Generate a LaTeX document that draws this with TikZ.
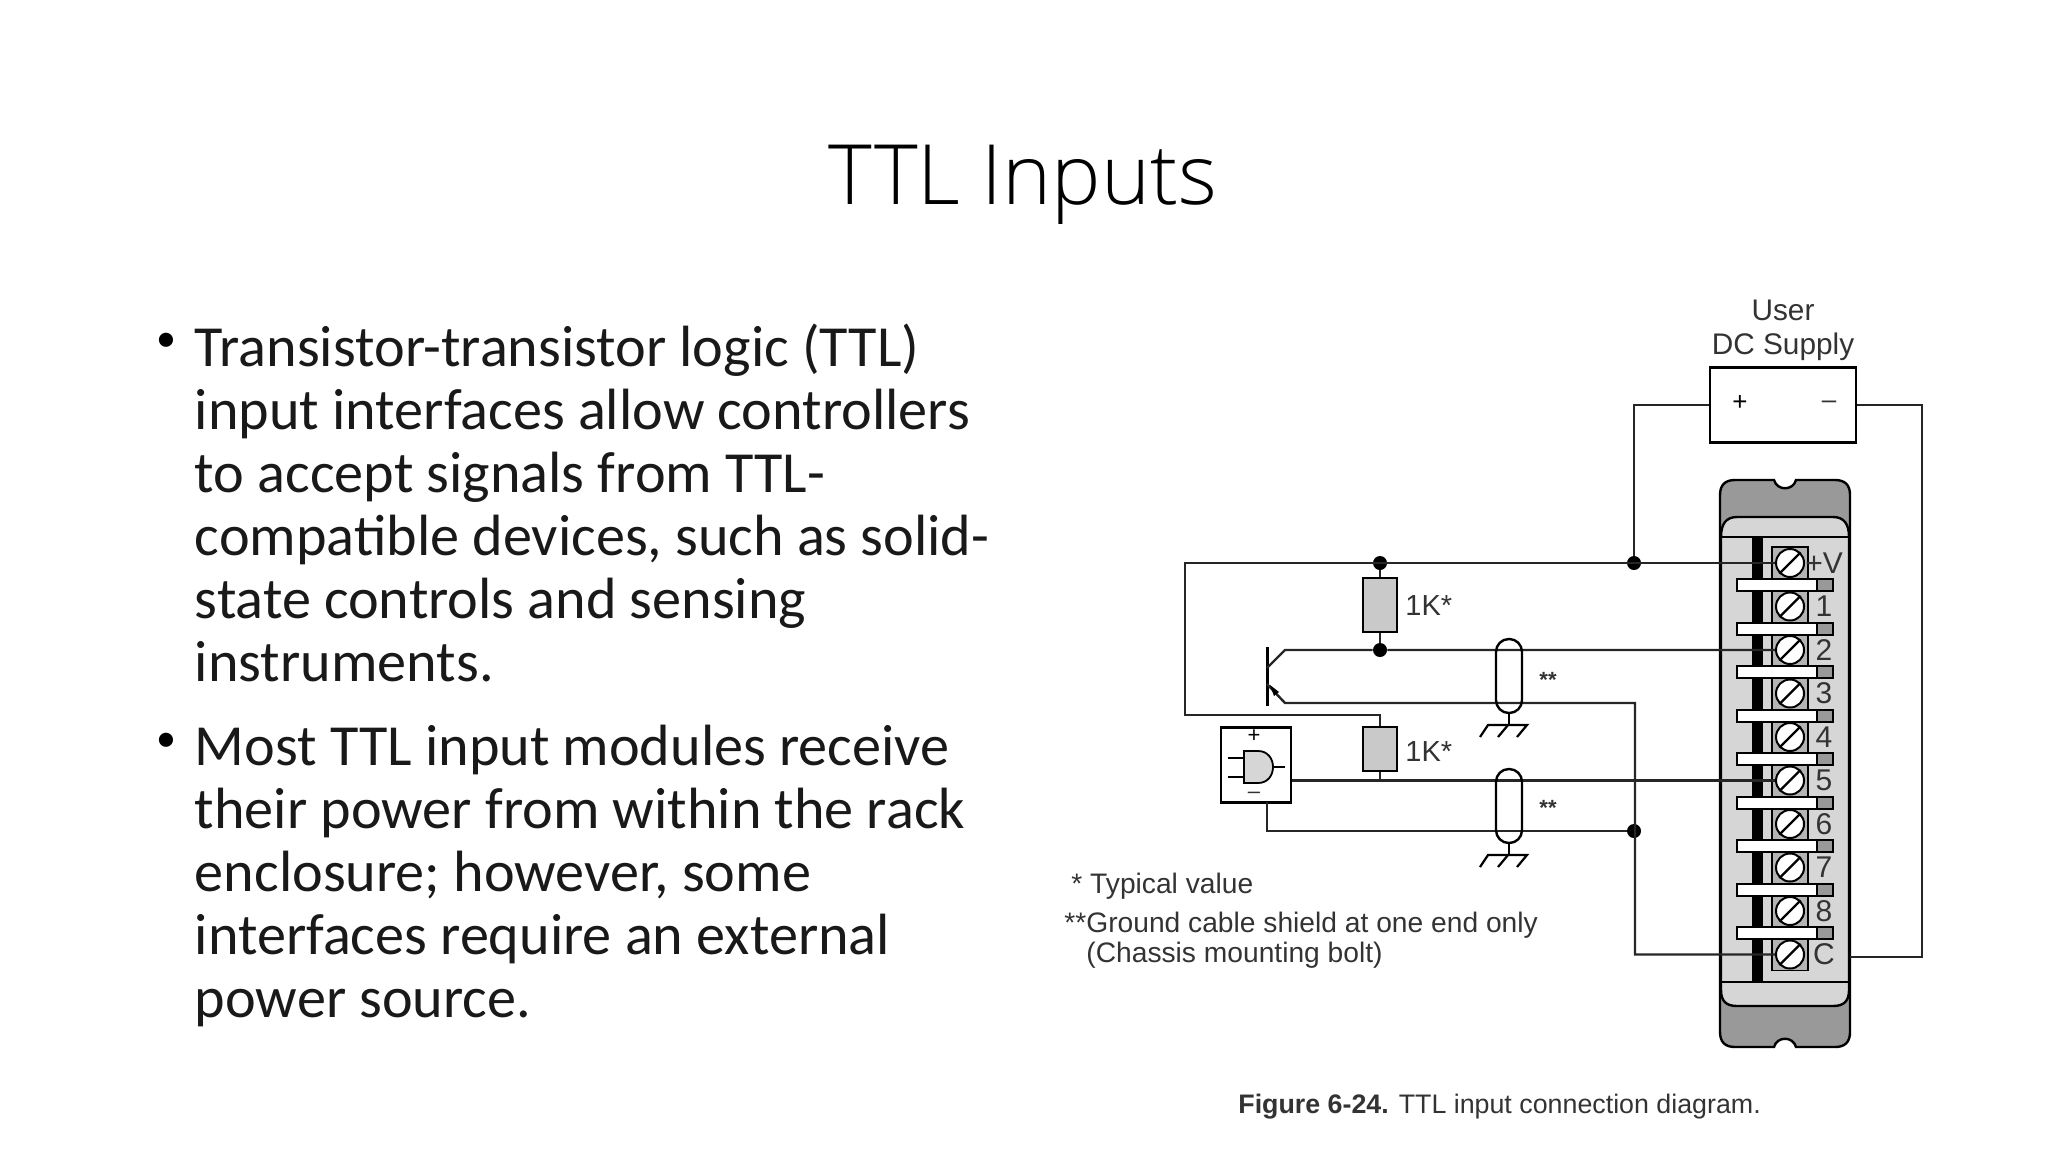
\documentclass[tikz,border=0pt]{standalone}
\usepackage{fontspec}
\setmainfont{Carlito}
\newfontfamily\figfont{Liberation Sans}
\newfontfamily\titlefont{Open Sans Light}
\usetikzlibrary{positioning}
\definecolor{capgray}{HTML}{999999}
\definecolor{bodygray}{HTML}{D6D6D6}
\definecolor{blockgray}{HTML}{B4B4B4}
\definecolor{figtext}{HTML}{333333}
\tikzset{
  wire/.style={line width=1.2pt,draw=black!85},
  slide/.style={inner sep=0,align=left,anchor=north west,text=black!90,font=\fontsize{29.1}{31.5}\selectfont},
  bulletmark/.style={inner sep=0,font=\fontsize{20}{20}\selectfont},
  figlabel/.style={inner sep=0,anchor=base west,text=figtext,font=\figfont\fontsize{14.1}{15}\selectfont},
  resistor/.style={draw,line width=1.2pt,fill=bodygray!85!gray,minimum width=17pt,inner sep=0},
  screw/.style={circle,draw,line width=1pt,fill=white,minimum size=14pt,inner sep=0},
  dot/.style={circle,fill=black,minimum size=7pt,inner sep=0},
  shield/.style={draw,line width=1.2pt,rounded corners=6.4pt,minimum width=13pt,inner sep=0},
  terminal/.style={inner sep=0,text=figtext,font=\figfont\fontsize{15}{15}\selectfont}
}
\begin{document}
\begin{tikzpicture}[x=.5pt,y=-.5pt]
\useasboundingbox (0,0) rectangle (2048,1152);

\node[inner sep=0,anchor=base,text=black,font=\titlefont\fontsize{41.6}{47}\selectfont] (title) at (1023,204) {TTL Inputs};

\node[bulletmark] (b1) at (166,342) {•};
\node[bulletmark] (b2) at (166,742) {•};
\node[slide] (para1) at (194.5,323.5) {Transistor-transistor logic (TTL)\\input interfaces allow controllers\\to accept signals from TTL-\\compatible devices, such as solid-\\state controls and sensing\\instruments.};
\node[slide] (para2) at (194.5,724.5) {Most TTL input modules receive\\their power from within the rack\\enclosure; however, some\\interfaces require an external\\power source.};

% I/O module
\draw[line width=1.2pt,fill=capgray] (1720,495) .. controls (1720,485) and (1725,480) .. (1735,480) -- (1774,480)
  .. controls (1777,491) and (1793,491) .. (1796,480) -- (1835,480) .. controls (1845,480) and (1850,485) .. (1850,495)
  -- (1850,1032) .. controls (1850,1042) and (1845,1047) .. (1835,1047) -- (1796,1047)
  .. controls (1793,1036) and (1777,1036) .. (1774,1047) -- (1735,1047) .. controls (1725,1047) and (1720,1042) .. (1720,1032) -- cycle;
\draw[line width=1.2pt,fill=bodygray] (1721,537) .. controls (1721,524) and (1726,517) .. (1737,517) -- (1833,517)
  .. controls (1844,517) and (1849,524) .. (1849,537) -- (1849,990) .. controls (1849,1001) and (1844,1006) .. (1833,1006)
  -- (1737,1006) .. controls (1726,1006) and (1721,1001) .. (1721,990) -- cycle;
\draw[line width=1.2pt] (1721,537) -- (1849,537);
\draw[line width=1.2pt] (1721,982) -- (1849,982);
\fill (1752,537) rectangle (1763,983);

\foreach \i/\lab in {0/+V,1/1,2/2,3/3,4/4,5/5,6/6,7/7,8/8,9/C}{
  \draw[line width=.8pt,fill=blockgray] (1772,{547+43.5*\i}) rectangle (1808,{579+43.5*\i});
  \node[screw] (t\i) at (1790,{563+43.5*\i}) {};
  \draw[line width=1.2pt] (t\i.225) -- (t\i.45);
  \node[terminal] (lab\i) at (1824,{563+43.5*\i}) {\lab};
}
\foreach \i in {0,...,8}{
  \draw[line width=1pt,fill=capgray] (1817,{579+43.5*\i}) rectangle (1833,{591+43.5*\i});
  \draw[line width=1pt,fill=white] (1737,{579+43.5*\i}) rectangle (1817,{591+43.5*\i});
}

% supply
\node[draw,line width=1.2pt,minimum width=73pt,minimum height=37.5pt,inner sep=0] (supply) at (1783,405) {};
\node[inner sep=0,text=figtext,font=\figfont\fontsize{14.9}{17}\selectfont,align=center,above=2.5pt of supply] (supplytxt) {User\\DC Supply};
\node[inner sep=0,font=\figfont\fontsize{13}{13}\selectfont] (plus) at (1740,403) {+};
\node[inner sep=0,font=\figfont\fontsize{13}{13}\selectfont,text=figtext] (minus) at (1829,405) {–};

\coordinate (rightup) at (1922,405);
\coordinate (cright) at (1850,957);
\draw[wire] (supply.east) -- (rightup) |- (cright);

% resistors and dots
\node[dot] (dv) at (1634,563) {};
\node[dot] (dtop) at (1380,563) {};
\node[dot] (dcol) at (1380,650) {};
\node[dot] (dc) at (1634,831) {};
\node[resistor,minimum height=27pt] (r1) at (1380,605) {};
\node[resistor,minimum height=22pt] (r2) at (1380,749) {};
\node[inner sep=0,anchor=west,text=figtext,font=\figfont\fontsize{14.5}{15}\selectfont] (r1lab) at (1405,606) {1K*};
\node[inner sep=0,anchor=west,text=figtext,font=\figfont\fontsize{14.5}{15}\selectfont] (r2lab) at (1405,752) {1K*};

\coordinate (leftup) at (1185,563);
\coordinate (leftdn) at (1185,715);
\coordinate (r2top) at (1380,715);
\coordinate (r2bot) at (1380,780.5);
\draw[wire] (supply.west) -| (dv);
\draw[wire] (t0.west) -- (leftup) -- (leftdn) -- (r2top) -- (r2.north);
\draw[wire] (dtop) -- (r1.north);
\draw[wire] (r1.south) -- (dcol);
\draw[wire] (r2.south) -- (r2bot);

% transistor
\coordinate (base1) at (1267,647);
\coordinate (base2) at (1267,706);
\coordinate (colin) at (1267,668);
\coordinate (colout) at (1285,650);
\coordinate (emin) at (1267,684);
\coordinate (emout) at (1285,703);
\coordinate (embend) at (1635,703);
\coordinate (cbend) at (1635,954.5);
\draw[line width=1.5pt] (base1) -- (base2);
\draw[wire] (colin) -- (colout) -- (dcol) -- (t2.west);
\draw[wire] (emin) -- (emout) -- (embend) -- (cbend) -- (t9.west);
\fill (1270,685) -- (1279,692) -- (1274,696) -- cycle;

% sensor module
\node[draw,line width=1.2pt,fill=white,minimum width=35pt,minimum height=37.5pt,inner sep=0] (ttl) at (1256,765) {};
\node[inner sep=0,font=\figfont\fontsize{11}{11}\selectfont] (ttlplus) at (1254,736) {+};
\node[inner sep=0,font=\figfont\fontsize{11}{11}\selectfont,text=figtext] (ttlminus) at (1254,795) {–};
\draw[line width=.9pt,fill=bodygray] (1244,751) -- (1258,751) .. controls (1278,751) and (1278,783) .. (1258,783) -- (1244,783) -- cycle;
\foreach \y in {758,777}{
  \draw[line width=.9pt] (1228,\y) -- (1244,\y);
}
\draw[line width=.9pt] (1273,767) -- (1285,767);

\coordinate (ttlout) at (1292,780.5);
\coordinate (ttlbot) at (1267,802);
\coordinate (ttlcorner) at (1267,831);
\draw[wire] (ttlout) -- (r2bot) -- (t5.west);
\draw[wire] (ttlbot) -- (ttlcorner) -- (dc);

% shields and grounds
\node[shield,minimum height=37pt] (s1) at (1509,676) {};
\node[shield,minimum height=37pt] (s2) at (1509,806) {};
\foreach \s/\gy in {s1/725,s2/855}{
  \coordinate (gnd\s) at (1509,\gy);
  \draw[line width=1.1pt] (\s.south) -- (gnd\s);
  \draw[line width=1.1pt] (1480,\gy+12) -- (1488,\gy) -- (1527,\gy) -- (1517,\gy+12);
  \draw[line width=1.1pt] (1498,\gy+12) -- (1508,\gy);
}
\node[inner sep=0,text=figtext,font=\figfont\bfseries\fontsize{11}{12}\selectfont] (s1lab) at (1548,680) {**};
\node[inner sep=0,text=figtext,font=\figfont\bfseries\fontsize{11}{12}\selectfont] (s2lab) at (1548,808) {**};

% notes
\node[figlabel] (note1) at (1071,893) {* Typical value};
\node[figlabel] (note2) at (1064,932) {**Ground cable shield at one end only};
\node[figlabel] (note3) at (1086,962) {(Chassis mounting bolt)};
\node[inner sep=0,anchor=base west,text=figtext,font=\figfont\fontsize{13.4}{14}\selectfont] (figcap) at (1238,1113) {\textbf{Figure 6-24.} TTL input connection diagram.};
\end{tikzpicture}
\end{document}
